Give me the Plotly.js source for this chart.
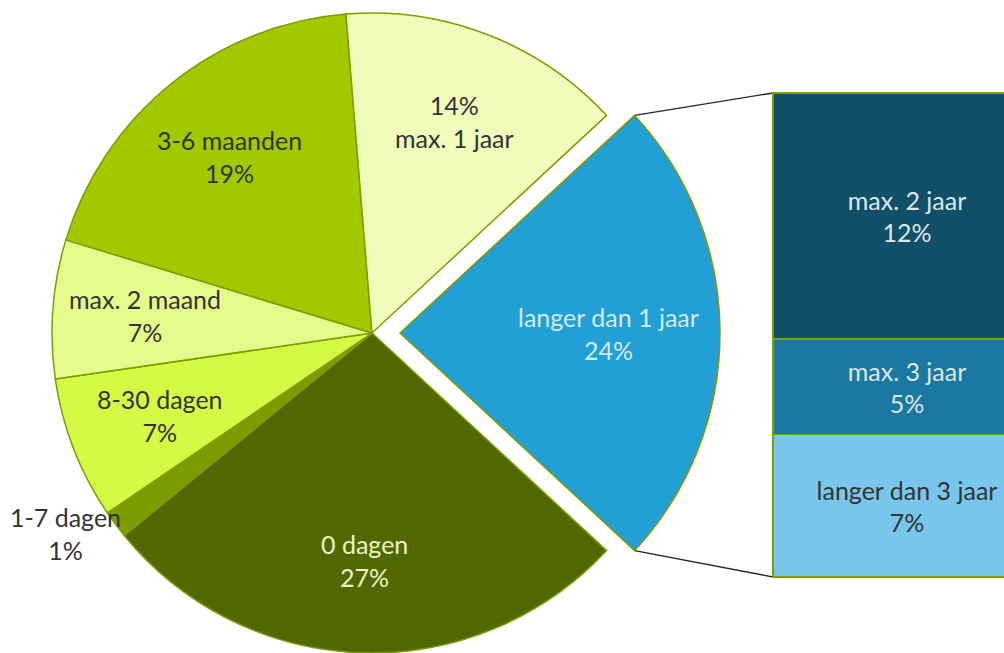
<!DOCTYPE html>
<html><head><meta charset="utf-8">
<script src="https://cdn.plot.ly/plotly-3.0.1.min.js"></script>
<style>html,body{margin:0;padding:0;overflow:hidden;background:#fff}#chart{width:1004px;height:653px}</style>
</head><body><div id="chart"></div>
<script>
// ---- data ----
const pieLabels = ['langer dan 1 jaar', '0 dagen', '1-7 dagen', '8-30 dagen', 'max. 2 maand', '3-6 maanden', 'max. 1 jaar'];
const pieValues = [23.8, 27.2, 1.4, 7.2, 7.0, 19.0, 14.4];
const barLabels = ['langer dan 3 jaar', 'max. 3 jaar', 'max. 2 jaar'];
const barValues = [7.0, 4.7, 12.1];

// ---- styles ----
const pieColors = ['#229fd5', '#536700', '#7a9c00', '#d5fa45', '#e5fc8c', '#a2c800', '#f0fdba'];
const pieTextColors = ['#d2ecf9', '#eaf5c4', '#333333', '#333333', '#333333', '#333333', '#333333'];
const pctFirst = [false, false, false, false, false, false, true];
const barColors = ['#78c6eb', '#1b78a1', '#115069'];
const barTextColors = ['#333333', '#dde8ee', '#dde8ee'];
const EDGE = '#7f9c00';
const FONT = 'Lato, "Open Sans", sans-serif';
const FS = 25;
const TRANSPARENT = 'rgba(0,0,0,0)';

// ---- layout geometry (pixels) ----
const W = 1004, H = 653, CX = 372, CY = 333, R = 320, PULL = 28;
const BAR_L = 773, BAR_T = 93, BAR_B = 577, BAR_MID = 907;
const LABEL_R = 0.71;

const total = pieValues.reduce((a, b) => a + b, 0);
const rotation = 90 - pieValues[0] / total * 180;   // centre the exploded slice at 3 o'clock
const pct = v => Math.round(v / total * 100) + '%';

const pieDomainX = [(CX - R) / W, (CX + R) / W];
const pieDomainY = [Math.max(0, (H - CY - R) / H), (H - CY + R) / H];

const common = {
  type: 'pie', labels: pieLabels, values: pieValues, sort: false,
  direction: 'clockwise', rotation: rotation, textinfo: 'none',
  hoverinfo: 'skip', showlegend: false
};

// main pie (exploded slice left blank)
const pieMain = Object.assign({}, common, {
  domain: {x: pieDomainX, y: pieDomainY},
  marker: {
    colors: pieColors.map((c, i) => i === 0 ? TRANSPARENT : c),
    line: {color: EDGE, width: pieColors.map((c, i) => i === 0 ? 0 : 1.5)}
  }
});
// exploded slice
const pieOut = Object.assign({}, common, {
  domain: {x: pieDomainX.map(d => d + PULL / W), y: pieDomainY},
  marker: {
    colors: pieColors.map((c, i) => i === 0 ? c : TRANSPARENT),
    line: {color: EDGE, width: pieColors.map((c, i) => i === 0 ? 1.5 : 0)}
  }
});

// ---- labels for slices ----
const annotations = [];
let ang = 90 - rotation; // degrees ccw from east
const toPaper = (px, py) => [px / W, 1 - py / H];
let explodedStart = ang, explodedEnd = 0, explodedMid = 0;
pieValues.forEach((v, i) => {
  const span = v / total * 360;
  const mid = ang - span / 2;
  if (i === 0) { explodedEnd = ang - span; explodedMid = mid; }
  const rad = mid * Math.PI / 180;
  const ox = i === 0 ? PULL * Math.cos(rad) : 0;
  const oy = i === 0 ? PULL * Math.sin(rad) : 0;
  const p = pct(v);
  const txt = pctFirst[i] ? p + '<br>' + pieLabels[i] : pieLabels[i] + '<br>' + p;
  const outside = v / total < 0.03;
  const rf = outside ? 1.0 : (i === 0 ? 0.65 : LABEL_R);
  const px = CX + ox + R * rf * Math.cos(rad);
  const py = CY - oy - R * rf * Math.sin(rad);
  const [x, y] = toPaper(px, py);
  const ann = {
    xref: 'paper', yref: 'paper', x: x, y: y, xanchor: 'center', yanchor: 'middle',
    text: txt, showarrow: false, align: 'center',
    font: {family: FONT, size: FS, color: pieTextColors[i]}
  };
  if (outside) {
    ann.xanchor = Math.cos(rad) < 0 ? 'right' : 'left';
    ann.xshift = Math.cos(rad) < 0 ? 8 : -8;
    ann.yshift = -9;
  }
  annotations.push(ann);
  ang -= span;
});

// ---- connector lines from exploded slice to bar ----
function sliceCorner(a) {
  const r = a * Math.PI / 180, m = explodedMid * Math.PI / 180;
  return [CX + PULL * Math.cos(m) + R * Math.cos(r), CY - PULL * Math.sin(m) - R * Math.sin(r)];
}
const cTop = sliceCorner(explodedStart), cBot = sliceCorner(explodedEnd);
const shapes = [
  [cTop, [BAR_L, BAR_T]],
  [cBot, [BAR_L, BAR_B]]
].map(([a, b]) => {
  const pa = toPaper(a[0], a[1]), pb = toPaper(b[0], b[1]);
  return {type: 'line', xref: 'paper', yref: 'paper', x0: pa[0], y0: pa[1], x1: pb[0], y1: pb[1],
          line: {color: '#262626', width: 1.3}, layer: 'below'};
});

// ---- stacked bar ----
const barTotal = barValues.reduce((a, b) => a + b, 0);
const pad = 2;
const unitX = (BAR_MID - BAR_L) / 0.5;
const unitY = (BAR_B - BAR_T) / barTotal;
const xRange = [-0.5 - pad / unitX, (W - BAR_MID) / unitX];
const xDomain = [(BAR_L - pad) / W, 1];
const yRange = [-pad / unitY, barTotal + pad / unitY];
const yDomain = [(H - BAR_B - pad) / H, (H - BAR_T + pad) / H];

const barTraces = barValues.map((v, i) => ({
  type: 'bar', x: [0], y: [v], width: 1, name: barLabels[i],
  marker: {color: barColors[i], line: {color: EDGE, width: 1.5}},
  text: [barLabels[i] + '<br>' + pct(v)], textposition: 'inside', insidetextanchor: 'middle',
  textangle: 0, textfont: {family: FONT, size: FS, color: barTextColors[i]},
  hoverinfo: 'skip', showlegend: false, cliponaxis: false
}));

const layout = {
  width: W, height: H, margin: {l: 0, r: 0, t: 0, b: 0},
  paper_bgcolor: '#ffffff', plot_bgcolor: 'rgba(0,0,0,0)',
  barmode: 'stack', showlegend: false, hovermode: false,
  xaxis: {domain: xDomain, range: xRange, visible: false, fixedrange: true},
  yaxis: {domain: yDomain, range: yRange, visible: false, fixedrange: true},
  annotations: annotations, shapes: shapes,
  font: {family: FONT}
};

Plotly.newPlot('chart', [...barTraces, pieMain, pieOut], layout, {displayModeBar: false, staticPlot: true});
</script></body></html>
